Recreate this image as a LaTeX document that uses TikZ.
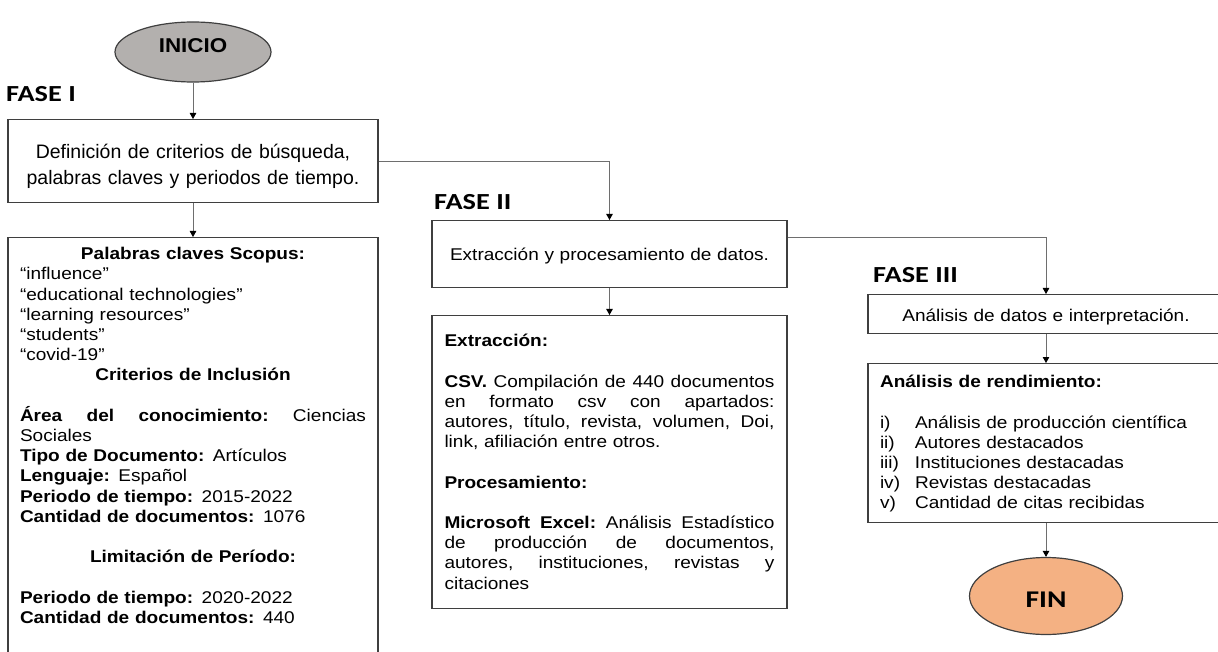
\documentclass[tikz,border=0pt]{standalone}
\usepackage{fontspec}
\setmainfont{Liberation Sans}[FakeStretch=1.12]
\newfontfamily\plainfont{Liberation Sans}
\newfontfamily\calibfont{Carlito}[FakeStretch=1.23]
\usetikzlibrary{shapes.geometric,arrows.meta}
\definecolor{boxline}{HTML}{3F3F3F}
\definecolor{connline}{HTML}{6E6E6E}
\definecolor{startfill}{HTML}{B3B0AE}
\definecolor{endfill}{HTML}{F4B183}
\newcommand{\jline}[1]{\leavevmode\hbox to \linewidth{#1}}
\tikzset{
  tbox/.style={draw=boxline, line width=1.3pt, rectangle, anchor=north,
    inner ysep=0pt, inner xsep=12pt, font=\fontsize{17}{20.2}\selectfont},
  conn/.style={draw=connline, line width=0.9pt,
    -{Triangle[width=6.5pt,length=6pt,color=black]}},
  phase/.style={anchor=base west, inner sep=0pt,
    font=\calibfont\bfseries\fontsize{23}{27}\selectfont},
  term/.style={ellipse, draw=boxline, line width=1.2pt, inner sep=0pt},
}
\begin{document}
\begin{tikzpicture}[x=1pt,y=-1pt]
\useasboundingbox (0,0) rectangle (1218,652);

% start
\node[term, fill=startfill, minimum width=156pt, minimum height=60pt,
  text height=15pt, text depth=13pt,
  font=\bfseries\fontsize{20}{24}\selectfont] (inicio) at (193,52) {INICIO};

% phase labels
\node[phase] (f1) at (6,102) {FASE I};
\node[phase] (f2) at (434,210) {FASE II};
\node[phase] (f3) at (873,283) {FASE III};

% phase I
\node[tbox, text width=346pt, align=center, text depth=44pt,
  font=\plainfont\fontsize{19.5}{26}\selectfont] (b1) at (193,119)
  {\rule{0pt}{39pt}Definición de criterios de búsqueda,\\palabras claves y periodos de tiempo.};

\node[tbox, text width=346pt, text depth=406pt] (pal) at (193,237) {%
\rule{0pt}{22pt}\makebox[\linewidth][c]{\textbf{Palabras claves Scopus:}}\\
“influence”\\
“educational technologies”\\
“learning resources”\\
“students”\\
“covid-19”\\
\makebox[\linewidth][c]{\textbf{Criterios de Inclusión}}\\
\mbox{}\\
\jline{\textbf{Área}\hfill\textbf{del}\hfill\textbf{conocimiento:}\hfill Ciencias}\\
Sociales\\
\textbf{Tipo de Documento:} Artículos\\
\textbf{Lenguaje:} Español\\
\textbf{Periodo de tiempo:} 2015-2022\\
\textbf{Cantidad de documentos:} 1076\\
\mbox{}\\
\makebox[\linewidth][c]{\textbf{Limitación de Período:}}\\
\mbox{}\\
\textbf{Periodo de tiempo:} 2020-2022\\
\textbf{Cantidad de documentos:} 440};

% phase II
\node[tbox, text width=330pt, inner xsep=12.5pt, align=center, text depth=27pt]
  (b2) at (609.5,220) {\rule{0pt}{40pt}Extracción y procesamiento de datos.};

\node[tbox, text width=330pt, inner xsep=12.5pt, text depth=262pt] (b2b) at (609.5,315) {%
\rule{0pt}{31pt}\textbf{Extracción:}\\
\mbox{}\\
\jline{\textbf{CSV.}\hfill Compilación\hfill de\hfill 440\hfill documentos}\\
\jline{en\hfill formato\hfill csv\hfill con\hfill apartados:}\\
\jline{autores,\hfill título,\hfill revista,\hfill volumen,\hfill Doi,}\\
link, afiliación entre otros.\\
\mbox{}\\
\textbf{Procesamiento:}\\
\mbox{}\\
\jline{\textbf{Microsoft}\hfill\textbf{Excel:}\hfill Análisis\hfill Estadístico}\\
\jline{de\hfill producción\hfill de\hfill documentos,}\\
\jline{autores,\hfill instituciones,\hfill revistas\hfill y}\\
citaciones};

% phase III
\node[tbox, text width=332pt, align=center, text depth=12pt]
  (b3) at (1046,294) {\rule{0pt}{27pt}Análisis de datos e interpretación.};

\node[tbox, text width=332pt, text depth=135pt] (b3b) at (1046,363) {%
\rule{0pt}{24pt}\textbf{Análisis de rendimiento:}\\
\mbox{}\\
\makebox[35pt][l]{i)}Análisis de producción científica\\
\makebox[35pt][l]{ii)}Autores destacados\\
\makebox[35pt][l]{iii)}Instituciones destacadas\\
\makebox[35pt][l]{iv)}Revistas destacadas\\
\makebox[35pt][l]{v)}Cantidad de citas recibidas};

% end
\node[term, fill=endfill, minimum width=153pt, minimum height=77pt,
  text height=22pt, text depth=0pt,
  font=\calibfont\bfseries\fontsize{24}{28}\selectfont] (fin) at (1046,596) {FIN};

% connectors
\draw[conn] (inicio.south) -- (b1.north);
\draw[conn] (b1.south) -- (pal.north);
\draw[conn] (b1.east) -| (b2.north);
\draw[conn] ([yshift=16.5pt]b2.east) -| (b3.north);
\draw[conn] (b2.south) -- (b2b.north);
\draw[conn] (b3.south) -- (b3b.north);
\draw[conn] (b3b.south) -- (fin.north);
\end{tikzpicture}
\end{document}
